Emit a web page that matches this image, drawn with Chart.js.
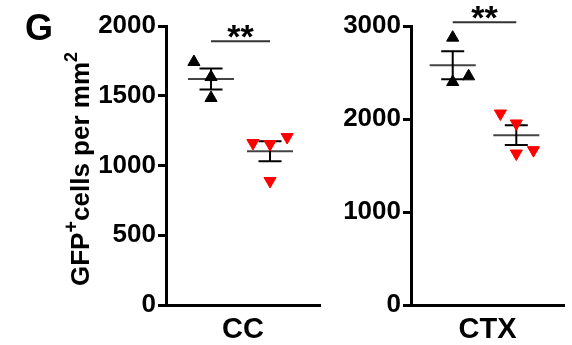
<!DOCTYPE html>
<html>
<head>
<meta charset="utf-8">
<script src="https://cdn.jsdelivr.net/npm/chart.js@4.4.1/dist/chart.umd.min.js"></script>
<style>
html, body { margin: 0; padding: 0; background: #fff; }
#wrap { position: relative; width: 572px; height: 345px; }
#ccChart { position: absolute; left: 0; top: 0; }
#ctxChart { position: absolute; left: 330px; top: 0; }
</style>
</head>
<body>
<div id="wrap">
  <canvas id="ccChart" width="330" height="345"></canvas>
  <canvas id="ctxChart" width="242" height="345"></canvas>
</div>
<script>
// CC 数据
const ccControl = [1742, 1634, 1484];
const ccControlJitter = [-0.29, 0, 0];
const ccTreated = [1161, 1154, 1204, 889];
const ccTreatedJitter = [-0.29, 0, 0.29, 0];
const ccTicks = [0, 500, 1000, 1500, 2000];

// CTX 数据
const ctxControl = [2875, 2398, 2459];
const ctxControlJitter = [0, 0, 0.25];
const ctxTreated = [2059, 1952, 1629, 1665];
const ctxTreatedJitter = [-0.25, 0, 0, 0.27];
const ctxTicks = [0, 1000, 2000, 3000];

const FONT = '"Liberation Sans", Arial, sans-serif';

function meanSem(arr) {
    const n = arr.length;
    const m = arr.reduce((a, b) => a + b, 0) / n;
    const sd = Math.sqrt(arr.reduce((a, b) => a + (b - m) * (b - m), 0) / (n - 1));
    return { m: m, sem: sd / Math.sqrt(n) };
}

function points(values, jitter, group) {
    return values.map((v, i) => ({ x: group + jitter[i], y: v }));
}

// 均值 ± SEM
const meanSemPlugin = {
    id: 'meanSem',
    beforeDatasetsDraw(chart) {
        const { ctx, scales: { x, y } } = chart;
        chart.data.datasets.forEach(ds => {
            const s = meanSem(ds.raw);
            const cx = x.getPixelForValue(ds.group);
            const ym = y.getPixelForValue(s.m);
            const yt = y.getPixelForValue(s.m + s.sem);
            const yb = y.getPixelForValue(s.m - s.sem);
            ctx.save();
            ctx.lineWidth = 2;
            ctx.strokeStyle = '#444';
            ctx.beginPath();
            ctx.moveTo(cx - 23, ym); ctx.lineTo(cx + 23, ym);
            ctx.stroke();
            ctx.strokeStyle = '#000';
            ctx.beginPath();
            ctx.moveTo(cx - 11.5, yt); ctx.lineTo(cx + 11.5, yt);
            ctx.moveTo(cx - 11.5, yb); ctx.lineTo(cx + 11.5, yb);
            ctx.moveTo(cx, yt); ctx.lineTo(cx, yb);
            ctx.stroke();
            ctx.restore();
        });
    }
};

// 显著性标记
const sigPlugin = {
    id: 'sig',
    afterDraw(chart, args, opts) {
        const { ctx, scales: { x, y } } = chart;
        const x1 = x.getPixelForValue(opts.from);
        const x2 = x.getPixelForValue(opts.to);
        const yy = y.getPixelForValue(opts.y);
        ctx.save();
        ctx.strokeStyle = '#333';
        ctx.lineWidth = 2;
        ctx.beginPath();
        ctx.moveTo(x1, yy); ctx.lineTo(x2, yy);
        ctx.stroke();
        ctx.font = 'bold 34px ' + FONT;
        ctx.fillStyle = '#000';
        ctx.textAlign = 'center';
        ctx.textBaseline = 'alphabetic';
        const m = ctx.measureText(opts.text);
        const cy = yy - 10;
        ctx.fillText(opts.text, (x1 + x2) / 2, cy + (m.actualBoundingBoxAscent - m.actualBoundingBoxDescent) / 2);
        ctx.restore();
    }
};

// 面板字母和 y 轴标题
const labelPlugin = {
    id: 'labels',
    afterDraw(chart, args, opts) {
        if (!opts.show) return;
        const ctx = chart.ctx;
        ctx.save();
        ctx.fillStyle = '#000';
        ctx.textBaseline = 'alphabetic';
        ctx.font = 'bold 36px ' + FONT;
        ctx.fillText('G', 25, 40);

        const parts = [
            { t: 'GFP', size: 26, dy: 0 },
            { t: '+', size: 20, dy: -11 },
            { t: 'cells per mm', size: 26, dy: 0 },
            { t: '2', size: 18, dy: -12 }
        ];
        let total = 0;
        parts.forEach(p => {
            ctx.font = 'bold ' + p.size + 'px ' + FONT;
            p.w = ctx.measureText(p.t).width;
            total += p.w;
        });
        ctx.translate(89, 169);
        ctx.rotate(-Math.PI / 2);
        let px = -total / 2;
        parts.forEach(p => {
            ctx.font = 'bold ' + p.size + 'px ' + FONT;
            ctx.fillText(p.t, px, p.dy);
            px += p.w;
        });
        ctx.restore();
    }
};

function makePanel(id, cfg) {
    return new Chart(document.getElementById(id), {
        type: 'scatter',
        data: {
            datasets: [
                {
                    label: 'control',
                    raw: cfg.control,
                    group: 1,
                    data: points(cfg.control, cfg.controlJitter, 1),
                    pointStyle: 'triangle',
                    pointRadius: 7,
                    backgroundColor: '#000',
                    borderColor: '#000',
                    borderWidth: 1
                },
                {
                    label: 'treated',
                    raw: cfg.treated,
                    group: 2,
                    data: points(cfg.treated, cfg.treatedJitter, 2),
                    pointStyle: 'triangle',
                    rotation: 180,
                    pointRadius: 7,
                    backgroundColor: '#ff0000',
                    borderColor: '#ff0000',
                    borderWidth: 1
                }
            ]
        },
        options: {
            responsive: false,
            animation: false,
            layout: { padding: { left: 0, right: cfg.padRight, top: 26, bottom: 0 } },
            scales: {
                x: {
                    type: 'linear',
                    min: cfg.xMin,
                    max: cfg.xMax,
                    ticks: { display: false },
                    grid: { display: false },
                    border: { display: true, color: '#000', width: 3 },
                    title: {
                        display: true,
                        text: cfg.title,
                        color: '#000',
                        font: { family: FONT, size: 29, weight: 'bold' },
                        padding: { top: 0, bottom: -2 }
                    },
                    afterFit: s => { s.height = 40; }
                },
                y: {
                    min: 0,
                    max: cfg.ticks[cfg.ticks.length - 1],
                    afterBuildTicks: s => { s.ticks = cfg.ticks.map(v => ({ value: v })); },
                    ticks: {
                        color: '#000',
                        padding: 2,
                        font: { family: FONT, size: 26, weight: 'bold' },
                        callback: v => String(v)
                    },
                    grid: {
                        display: true,
                        drawOnChartArea: false,
                        drawTicks: true,
                        tickLength: 8,
                        color: '#000',
                        lineWidth: 3
                    },
                    border: { display: true, color: '#000', width: 3 },
                    afterFit: s => { s.width = cfg.yWidth; }
                }
            },
            plugins: {
                legend: { display: false },
                tooltip: { enabled: false },
                sig: { from: 1, to: 2, y: cfg.sigY, text: '**' },
                labels: { show: cfg.showLabels }
            }
        },
        plugins: [meanSemPlugin, sigPlugin, labelPlugin]
    });
}

makePanel('ccChart', {
    control: ccControl, controlJitter: ccControlJitter,
    treated: ccTreated, treatedJitter: ccTreatedJitter,
    ticks: ccTicks, title: 'CC',
    xMin: 0.237, xMax: 2.847, yWidth: 166, padRight: 10,
    sigY: 1890, showLabels: true
});

makePanel('ctxChart', {
    control: ctxControl, controlJitter: ctxControlJitter,
    treated: ctxTreated, treatedJitter: ctxTreatedJitter,
    ticks: ctxTicks, title: 'CTX',
    xMin: 0.344, xMax: 2.75, yWidth: 81, padRight: 7,
    sigY: 3040, showLabels: false
});
</script>
</body>
</html>
